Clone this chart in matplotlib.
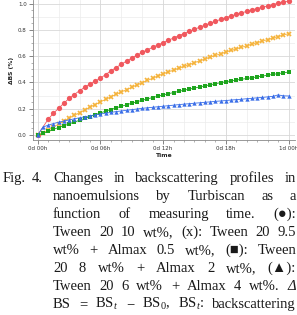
import numpy as np
import matplotlib
matplotlib.use("Agg")
import matplotlib.pyplot as plt
from matplotlib.ticker import MultipleLocator

W, H = 297, 315

# measuring time (h)
t_red = [0] + list(np.arange(1.0, 24.01, 0.5))
t_all = list(np.arange(0.0, 24.01, 0.5))

# Tween 20 10 wt%
bs_red = [0.0, 0.120, 0.165, 0.203, 0.242, 0.278, 0.308, 0.337, 0.363, 0.388, 0.410,
          0.432, 0.460, 0.487, 0.513, 0.538, 0.562, 0.585, 0.607, 0.628, 0.648, 0.667,
          0.685, 0.702, 0.720, 0.738, 0.755, 0.772, 0.788, 0.804, 0.820, 0.835, 0.850,
          0.865, 0.879, 0.893, 0.905, 0.917, 0.929, 0.940, 0.951, 0.962, 0.972, 0.982,
          0.992, 1.002, 1.011, 1.020]
# Tween 20 9.5 wt% + Almax 0.5 wt%
bs_orange = [0.0, 0.013, 0.036, 0.060, 0.083, 0.105, 0.127, 0.149, 0.170, 0.191, 0.212,
             0.232, 0.252, 0.271, 0.290, 0.309, 0.327, 0.345, 0.363, 0.381, 0.398, 0.415,
             0.432, 0.449, 0.466, 0.480, 0.494, 0.508, 0.522, 0.536, 0.550, 0.564, 0.578,
             0.592, 0.605, 0.618, 0.631, 0.643, 0.655, 0.667, 0.679, 0.691, 0.703, 0.714,
             0.726, 0.737, 0.749, 0.760, 0.771]
# Tween 20 8 wt% + Almax 2 wt%
bs_green = [0.0, 0.012, 0.028, 0.043, 0.057, 0.070, 0.084, 0.098, 0.112, 0.126, 0.140,
            0.155, 0.168, 0.181, 0.194, 0.206, 0.218, 0.230, 0.242, 0.253, 0.264, 0.275,
            0.285, 0.295, 0.305, 0.314, 0.323, 0.332, 0.341, 0.349, 0.357, 0.366, 0.374,
            0.382, 0.390, 0.398, 0.405, 0.412, 0.418, 0.424, 0.430, 0.436, 0.442, 0.448,
            0.455, 0.461, 0.467, 0.473, 0.479]
# Tween 20 6 wt% + Almax 4 wt%
bs_blue = [0.0, 0.060, 0.075, 0.087, 0.097, 0.106, 0.115, 0.123, 0.131, 0.139, 0.146,
           0.153, 0.160, 0.166, 0.172, 0.178, 0.183, 0.188, 0.193, 0.198, 0.203, 0.207,
           0.211, 0.215, 0.219, 0.223, 0.227, 0.231, 0.235, 0.238, 0.242, 0.245, 0.249,
           0.252, 0.256, 0.259, 0.262, 0.266, 0.269, 0.272, 0.276, 0.279, 0.283, 0.286,
           0.290, 0.294, 0.305, 0.298, 0.297]

xticks = [0, 6, 12, 18, 24]
xtick_labels = ["0d 00h", "0d 06h", "0d 12h", "0d 18h", "1d 00h"]

caption = [
    "Changes in backscattering profiles in",
    "nanoemulsions by Turbiscan as a",
    "function of measuring time. (\u25cf):",
    "Tween 20 10 wt%, (x): Tween 20 9.5",
    "wt% + Almax 0.5 wt%, (\u25a0): Tween",
    "20 8 wt% + Almax 2 wt%, (\u25b2):",
    "Tween 20 6 wt% + Almax 4 wt%. \u0394",
    "BS = BS$_t$ \u2212 BS$_0$, BS$_t$: backscattering",
]

plt.rcParams['mathtext.fontset'] = 'custom'
plt.rcParams['mathtext.rm'] = 'Liberation Serif'
plt.rcParams['mathtext.it'] = 'Liberation Serif:italic'

fig = plt.figure(figsize=(W / 100, H / 100), dpi=100)
ax = fig.add_axes([33 / W, 1 - 140 / H, (295 - 33) / W, 140 / H])

ax.plot(t_red, bs_red, '-o', color='#f0585e', ms=3.8, lw=0.6, mew=0)
ax.plot(t_all, bs_orange, '-x', color='#f5b33c', ms=3.0, lw=0.6, mew=1.2)
ax.plot(t_all, bs_green, '-s', color='#1ea51e', ms=3.1, lw=0.6, mew=0)
ax.plot(t_all, bs_blue, '-^', color='#3a6ee8', ms=3.1, lw=0.6, mew=0)

ax.set_xlim(-0.45, 24.62)
ax.set_ylim(-0.038, 1.027)
ax.set_xticks(xticks)
ax.set_xticklabels(xtick_labels)
ax.xaxis.set_minor_locator(MultipleLocator(1))
ax.set_yticks(np.arange(0, 1.01, 0.2))
ax.yaxis.set_minor_locator(MultipleLocator(0.05))
ax.tick_params(which='major', labelsize=4, colors='#555555', length=3, width=0.5, pad=1.5)
ax.tick_params(which='minor', colors='#777777', length=1.5, width=0.4)
for lab in ax.get_xticklabels() + ax.get_yticklabels():
    lab.set_color('#333333')

ax.grid(which='major', color='#d8d8d8', lw=0.6)
for g in np.arange(2, 24, 2):
    ax.axvline(g, color='#ececec', lw=0.5, zorder=0)
for g in np.arange(0.1, 1.0, 0.2):
    ax.axhline(g, color='#ececec', lw=0.5, zorder=0)
ax.set_axisbelow(True)

for s in ['top', 'right']:
    ax.spines[s].set_visible(False)
for s in ['left', 'bottom']:
    ax.spines[s].set_color('#888888')
    ax.spines[s].set_linewidth(0.6)

ax.set_xlabel("Time", fontsize=4.3, fontweight='bold', labelpad=1.5, color='#222222')
ax.set_ylabel("\u0394BS (%)", fontsize=4.3, fontweight='bold', labelpad=3, color='#222222')

# caption, justified
fam = ['Liberation Serif', 'DejaVu Serif']
fs = 10.5
renderer = fig.canvas.get_renderer()
left, right = 53, 296
y0, dy = 182, 18.0

fig.text(3 / W, 1 - y0 / H, "Fig.", fontsize=fs, family=fam, va='baseline', color='#1a1a1a')
fig.text(32 / W, 1 - y0 / H, "4.", fontsize=fs, family=fam, va='baseline', color='#1a1a1a')

for i, line in enumerate(caption):
    y = y0 + dy * i
    words = line.split(' ')
    texts = []
    for w in words:
        st = 'italic' if w == '\u0394' else 'normal'
        texts.append(fig.text(0, 1 - y / H, w, fontsize=fs, family=fam, style=st,
                              va='baseline', color='#1a1a1a'))
    widths = [t.get_window_extent(renderer).width for t in texts]
    gap = (right - left - sum(widths)) / (len(words) - 1)
    x = left
    for t, wd in zip(texts, widths):
        t.set_x(x / W)
        x += wd + gap

fig.savefig("out.png", dpi=100)
